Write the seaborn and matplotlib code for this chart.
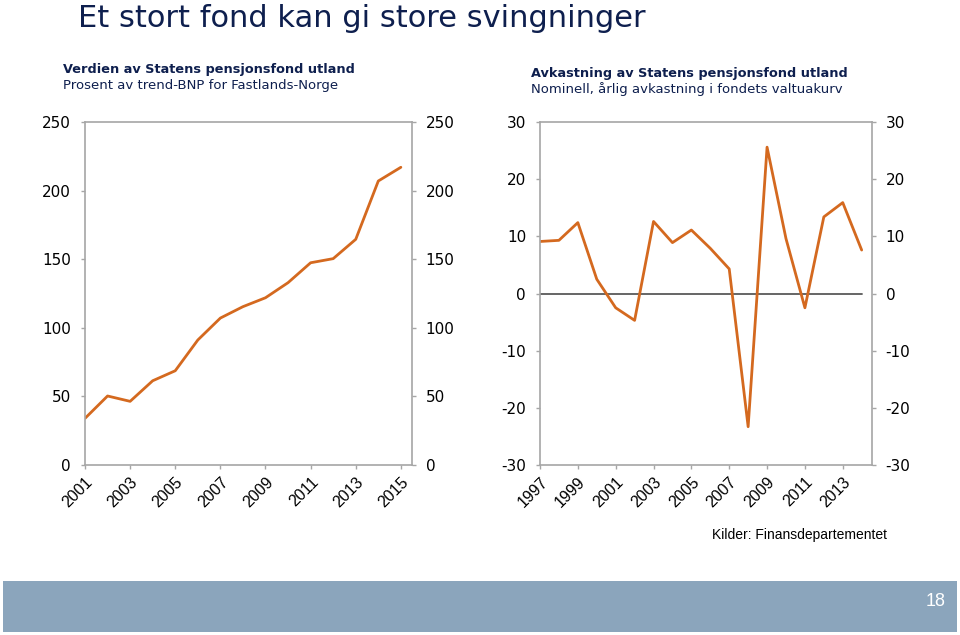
import matplotlib
matplotlib.use("Agg")
import matplotlib.pyplot as plt
import seaborn as sns
import pandas as pd
from matplotlib.patches import Rectangle

# ---- data ----
years_left = list(range(2001, 2016))
value_left = [34.0, 50.3, 46.4, 61.4, 68.7, 91.1, 107.1, 115.4, 121.9,
              132.9, 147.4, 150.4, 164.5, 207.0, 217.0]

years_right = list(range(1997, 2015))
return_right = [9.1, 9.3, 12.4, 2.5, -2.5, -4.7, 12.6, 8.9, 11.1, 7.9,
                4.3, -23.3, 25.6, 9.6, -2.5, 13.4, 15.9, 7.6]

left_yticks = [0, 50, 100, 150, 200, 250]
right_yticks = [-30, -20, -10, 0, 10, 20, 30]
left_xticks = list(range(2001, 2016, 2))
right_xticks = list(range(1997, 2014, 2))

title = "Et stort fond kan gi store svingninger"
left_title = "Verdien av Statens pensjonsfond utland"
left_sub = "Prosent av trend-BNP for Fastlands-Norge"
right_title = "Avkastning av Statens pensjonsfond utland"
right_sub = "Nominell, årlig avkastning i fondets valtuakurv"
source = "Kilder: Finansdepartementet"
page = "18"

# ---- style ----
sns.set_style("white")
plt.rcParams["font.family"] = ["Liberation Sans", "DejaVu Sans"]

LINE = "#D4691F"
GRAY = "#A6A6A6"
NAVY = "#0E1F4E"
WIDE = ["DejaVu Sans"]

fig = plt.figure(figsize=(9.6, 6.35), dpi=100)

df_l = pd.DataFrame({"year": years_left, "value": value_left})
df_r = pd.DataFrame({"year": years_right, "value": return_right})


def style_axes(ax, xticks, yticks, xlim, ylim):
    ax.set_xlim(*xlim)
    ax.set_ylim(*ylim)
    for s in ax.spines.values():
        s.set_visible(True)
        s.set_color(GRAY)
        s.set_linewidth(1.2)
    ax.set_xticks(xticks)
    ax.set_xticklabels([str(t) for t in xticks], rotation=45, ha="right",
                       rotation_mode="anchor", fontsize=11.5)
    ax.set_yticks(yticks)
    ax.set_yticklabels([str(t) for t in yticks], fontsize=11, family=WIDE)
    ax.tick_params(axis="both", which="both", direction="out", length=3,
                   width=1, color=GRAY, labelcolor="black")
    ax.tick_params(axis="y", left=True, right=True, labelleft=True,
                   labelright=True, pad=7)
    ax.tick_params(axis="x", bottom=True, pad=4)
    ax.set_xlabel("")
    ax.set_ylabel("")
    ax.grid(False)


# left chart
ax1 = fig.add_axes([85 / 960, 1 - 465 / 635, (411.7 - 85) / 960, (465 - 122) / 635])
sns.lineplot(data=df_l, x="year", y="value", ax=ax1, color=LINE, linewidth=2)
style_axes(ax1, left_xticks, left_yticks, (2001, 2015.48), (0, 250))

# right chart
ax2 = fig.add_axes([540 / 960, 1 - 465 / 635, (871.7 - 540) / 960, (465 - 122) / 635])
xl = (1997, 2014.53)
ax2.axhline(0, xmin=0, xmax=(years_right[-1] - xl[0]) / (xl[1] - xl[0]),
            color="#595959", linewidth=1.3, zorder=1)
sns.lineplot(data=df_r, x="year", y="value", ax=ax2, color=LINE, linewidth=2, zorder=2)
style_axes(ax2, right_xticks, right_yticks, xl, (-30, 30))

# texts
fig.text(78 / 960, 1 - 27 / 635, title, fontsize=22, color=NAVY,
         ha="left", va="baseline", family=WIDE)
fig.text(63 / 960, 1 - 70 / 635, left_title, fontsize=9.3, color=NAVY,
         fontweight="bold", ha="left", va="center", family=WIDE)
fig.text(63 / 960, 1 - 86 / 635, left_sub, fontsize=9.5, color=NAVY,
         ha="left", va="center", family=WIDE)
fig.text(531 / 960, 1 - 73 / 635, right_title, fontsize=9.3, color=NAVY,
         fontweight="bold", ha="left", va="center", family=WIDE)
fig.text(531 / 960, 1 - 89 / 635, right_sub, fontsize=9.5, color=NAVY,
         ha="left", va="center", family=WIDE)
fig.text(887 / 960, 1 - 535 / 635, source, fontsize=10, color="black",
         ha="right", va="center")

# footer band
fig.patches.append(Rectangle((3 / 960, 1 - 632 / 635), (957 - 3) / 960, (632 - 581) / 635,
                             transform=fig.transFigure, facecolor="#8BA5BC",
                             edgecolor="none", zorder=0))
fig.text(946 / 960, 1 - 602 / 635, page, fontsize=13, color="white",
         ha="right", va="center")

fig.savefig("out.png", dpi=100)
